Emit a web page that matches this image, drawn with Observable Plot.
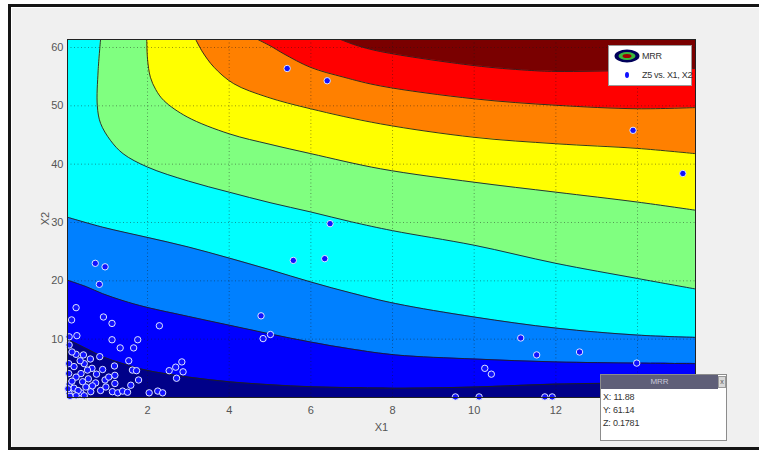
<!DOCTYPE html>
<html><head><meta charset="utf-8">
<script src="https://cdn.jsdelivr.net/npm/d3@7"></script>
<script src="https://cdn.jsdelivr.net/npm/@observablehq/plot@0.6"></script>
<style>
body{margin:0;background:#fff;}
#wrap{position:relative;width:759px;height:452px;overflow:hidden;background:#fff;font-family:"Liberation Sans",Arial,sans-serif;}
#panel{position:absolute;left:8px;top:4px;width:760px;height:440px;border:3px solid #151515;border-right:none;background:#f0f0f0;box-shadow:inset 1px 1px 0 #fff;}
#chart{position:absolute;left:0;top:0;}
#legend{position:absolute;left:608px;top:45px;width:82px;height:39px;background:#fff;border:1px solid #9a9a9a;font-size:9px;color:#333;white-space:nowrap;}
#legend .row{position:absolute;left:0;height:14px;display:flex;align-items:center;}
#legend span{letter-spacing:-0.3px;}
#legend svg{display:block;}
#tip{position:absolute;left:600px;top:374px;width:125px;height:65px;background:#fff;border:1px solid #8c8c8c;font-size:9px;color:#333;white-space:nowrap;}
#tip .bar{position:absolute;left:0;top:0;width:117px;height:14px;background:#5f5f78;color:#c8c8d8;font-size:8px;text-align:center;line-height:14px;}
#tip .x{position:absolute;left:117px;top:1px;width:8px;height:12px;background:#d8d8d8;border:1px solid #999;box-sizing:border-box;font-size:7px;line-height:10px;text-align:center;color:#555;}
#tip .ln{position:absolute;left:2px;line-height:11px;letter-spacing:-0.2px;}
</style></head>
<body>
<div id="wrap">
  <div id="panel"></div>
  <div id="chart"></div>
  <div id="legend">
    <div class="row" style="top:3px"><svg width="30" height="16" style="margin-left:3px"><ellipse cx="15" cy="8" rx="12.5" ry="6.5" fill="#00005a"/><ellipse cx="15" cy="8" rx="8.5" ry="4" fill="#3cb83c"/><ellipse cx="15" cy="8" rx="4.5" ry="2" fill="#a00000"/></svg><span>MRR</span></div>
    <div class="row" style="top:22px"><svg width="30" height="14" style="margin-left:3px"><ellipse cx="15" cy="7" rx="2" ry="3" fill="#1010ff"/></svg><span>Z5 vs. X1, X2</span></div>
  </div>
  <div id="tip">
    <div class="bar">MRR</div><div class="x">x</div>
    <div class="ln" style="top:17px">X: 11.88</div>
    <div class="ln" style="top:30px">Y: 61.14</div>
    <div class="ln" style="top:43px">Z: 0.1781</div>
  </div>
</div>
<script>
// Axis ticks (the "14" label sits under the data tip in the reference)
const xTicks = [2, 4, 6, 8, 10, 12, 14];
const xTickLabels = ["2", "4", "6", "8", "10", "12", ""];
const yTicks = [10, 20, 30, 40, 50, 60];
const xDomain = [0.04, 15.42];
const yDomain = [0, 61.37];

// Contour boundaries (x1, x2), lowest level first
const level1 = [[0.04,10.0],[0.5,8.4],[0.9,7.0],[1.4,5.8],[1.96,4.7],[3,3.5],[4,2.7],[5,2.2],[6,1.85],[7,1.7],[8.08,1.6],[10,1.8],[12,2.3],[14,2.5],[15.42,2.6]];
const level2 = [[0.04,20.1],[0.5,19.0],[0.9,17.8],[1.4,16.6],[1.96,15.5],[3,13.9],[4,12.4],[5,10.9],[6,9.5],[7,8.3],[8.08,7.3],[10,6.6],[12,6.1],[14,5.9],[15.42,5.8]];
const level3 = [[0.04,30.9],[0.9,29.2],[1.96,27.5],[3,25.8],[4,23.9],[5,21.9],[6,19.8],[7,17.9],[8.08,16.1],[10,13.8],[12,11.9],[14,10.7],[15.42,10.3]];
const level4 = [[0.85,61.37],[0.79,56],[0.77,50],[0.85,47],[1.09,44.1],[1.4,41.8],[2,39.5],[3,37.1],[4,35.2],[5,33.4],[6,31.8],[7,30.1],[8,28.6],[10,26.1],[12,23.0],[14,20.4],[15.42,18.6]];
const level5 = [[1.98,61.37],[2.0,58],[2.07,54.9],[2.2,52.8],[2.4,50.9],[2.97,48.1],[4,45.2],[5,43.4],[6,41.8],[7.71,39.2],[10,36.9],[12,35.2],[14,33.5],[15.42,32.1]];
const level6 = [[3.18,61.37],[3.35,59.2],[3.63,56.6],[4.11,53.8],[4.93,51.5],[5.99,49.5],[7.71,46.9],[10,44.6],[12,43.5],[14,42.7],[15.42,41.8]];
const level7 = [[4.7,61.37],[5.0,60.3],[5.34,58.9],[5.99,56.6],[6.81,54.9],[7.71,53.4],[10,51.2],[12,50.1],[14,49.5],[15.42,49.7]];
const level8 = [[6.73,61.37],[7.1,60.4],[7.71,59.3],[10,56.9],[11.3,56.1],[12,55.9],[14,56.1],[15.42,56.4]];
const levels = [level1, level2, level3, level4, level5, level6, level7, level8];
const bandColors = ["#000088", "#0000ff", "#0080ff", "#00ffff", "#80ff80", "#ffff00", "#ff8000", "#ff0000", "#7a0000"];

// Observations: Z5 vs. X1, X2
const ptX1 = [5.42,6.4,13.89,15.11,6.47,5.57,6.34,0.72,0.96,0.82,4.78,4.83,5.01,2.29,0.25,0.14,0.92,1.13,0.27,0.08,1.13,1.33,1.76,1.66,0.08,0.83,0.43,0.25,1.54,1.19,1.63,1.73,1.78,1.59,1.2,1.2,0.96,0.73,0.75,0.64,0.45,0.53,0.37,0.2,0.07,0.07,0.25,0.41,0.08,0.2,0.49,0.61,0.37,0.08,0.98,1.14,1.27,1.39,1.51,2.04,2.25,2.37,2.53,2.69,2.84,2.87,2.71,0.05,0.15,0.3,0.55,0.65,0.85,0.35,0.15,0.6,0.9,1.05,0.45,0.25,0.1,11.14,11.53,12.58,13.98,10.26,10.42,9.54,10.12,11.73,11.91];
const ptX2 = [56.4,54.3,45.8,38.4,29.8,23.5,23.8,23.0,22.4,19.4,14.0,10.1,10.8,12.3,15.4,13.3,13.8,12.7,10.6,10.4,9.9,8.5,9.9,8.5,9.0,7.0,7.3,7.4,6.3,5.4,4.7,4.6,3.0,2.1,3.8,2.4,3.0,2.5,4.0,5.0,5.8,4.7,4.1,5.3,5.8,4.1,3.5,2.7,2.3,1.6,1.8,1.0,0.8,0.7,1.8,1.0,0.8,1.1,0.9,0.8,1.1,0.8,4.6,5.2,6.1,4.4,3.3,1.5,2.8,1.2,3.2,2.0,1.2,6.3,7.8,6.6,4.8,3.5,0.3,0.3,0.2,10.2,7.3,7.8,5.9,5.0,4.0,0.1,0.1,0.1,0.1];
const points = ptX1.map((x, i) => ({x1: x, x2: ptX2[i]}));

const grid = {stroke: "#1a1a1a", strokeOpacity: 0.55, strokeWidth: 0.8, strokeDasharray: "1,2.5"};

const chart = Plot.plot({
  width: 759, height: 452,
  marginLeft: 67, marginRight: 64, marginTop: 39, marginBottom: 55,
  style: {background: "transparent", fontFamily: '"Liberation Sans",Arial,sans-serif', fontSize: "11px", color: "#555"},
  x: {domain: xDomain, ticks: xTicks, tickFormat: d => xTickLabels[xTicks.indexOf(d)], tickSize: 0, tickPadding: 9, label: "X1", labelAnchor: "center", labelOffset: 33, labelArrow: "none"},
  y: {domain: yDomain, ticks: yTicks, tickFormat: d => String(d), tickSize: 0, tickPadding: 4, label: "X2", labelAnchor: "center", labelOffset: 26, labelArrow: "none"},
  marks: [
    Plot.frame({fill: bandColors[0]}),
    ...levels.map((lv, i) => Plot.areaY(lv, {x: d => d[0], y1: d => d[1], y2: yDomain[1], fill: bandColors[i + 1], curve: "catmull-rom", clip: true})),
    ...levels.map(lv => Plot.line(lv, {x: d => d[0], y: d => d[1], stroke: "#202020", strokeWidth: 0.9, curve: "catmull-rom", clip: true})),
    Plot.ruleX(xTicks, grid),
    Plot.ruleY(yTicks, grid),
    Plot.dot(points, {x: "x1", y: "x2", r: 3.2, fill: "#1212ff", stroke: "#dfe6ff", strokeWidth: 1}),
    Plot.frame({stroke: "#222", strokeWidth: 1})
  ]
});
document.getElementById("chart").appendChild(chart);
</script>
</body></html>
